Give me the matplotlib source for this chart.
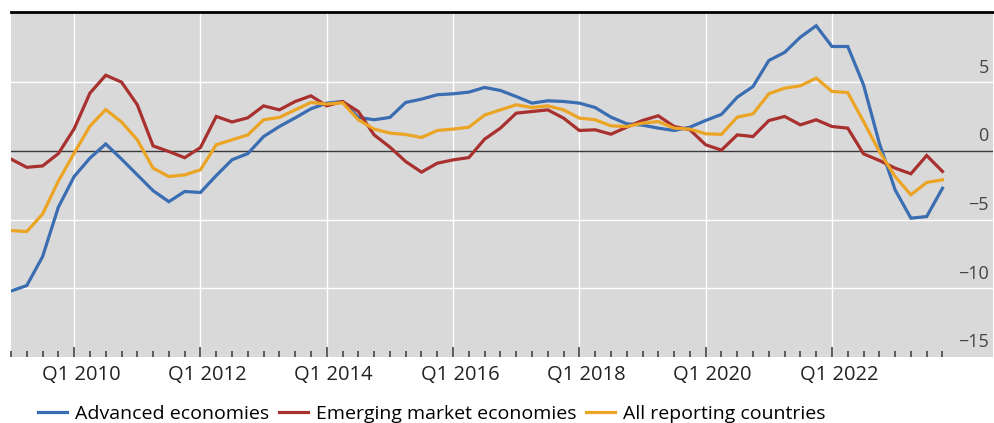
import numpy as np
import matplotlib
matplotlib.use("Agg")
from matplotlib import pyplot as plt
from matplotlib import transforms

plt.rcParams["font.family"] = ["Open Sans", "DejaVu Sans"]

# quarterly, Q1 2009 .. Q4 2023
start_year = 2009
advanced = [-10.2, -9.8, -7.7, -4.1, -1.87, -0.53, 0.5, -0.6, -1.75, -2.9,
            -3.7, -2.96, -3.03, -1.8, -0.65, -0.2, 1.04, 1.77, 2.4, 3.06,
            3.47, 3.59, 2.43, 2.26, 2.43, 3.52, 3.76, 4.08, 4.15, 4.27,
            4.61, 4.39, 3.95, 3.47, 3.64, 3.59, 3.47, 3.15, 2.45, 1.97,
            1.87, 1.65, 1.48, 1.72, 2.21, 2.65, 3.9, 4.68, 6.57, 7.16,
            8.27, 9.1, 7.59, 7.59, 4.8, 0.56, -2.84, -4.9, -4.78, -2.72]
emerging = [-0.6, -1.2, -1.1, -0.2, 1.6, 4.2, 5.5, 5.0, 3.35, 0.36,
            -0.05, -0.5, 0.24, 2.5, 2.1, 2.4, 3.27, 2.98, 3.59, 4.0,
            3.27, 3.59, 2.86, 1.16, 0.27, -0.78, -1.55, -0.9, -0.66, -0.49,
            0.85, 1.65, 2.74, 2.86, 2.98, 2.38, 1.48, 1.53, 1.21, 1.72,
            2.21, 2.55, 1.77, 1.53, 0.44, 0.05, 1.16, 1.04, 2.2, 2.5,
            1.89, 2.26, 1.77, 1.65, -0.22, -0.7, -1.26, -1.67, -0.34, -1.5]
all_countries = [-5.8, -5.87, -4.6, -2.2, -0.17, 1.8, 3.0, 2.1, 0.8, -1.26,
                 -1.87, -1.75, -1.38, 0.44, 0.8, 1.16, 2.26, 2.43, 2.98, 3.52,
                 3.4, 3.5, 2.26, 1.58, 1.29, 1.19, 0.97, 1.48, 1.58, 1.72,
                 2.6, 2.98, 3.35, 3.15, 3.27, 2.98, 2.38, 2.26, 1.82, 1.77,
                 2.01, 2.13, 1.65, 1.58, 1.24, 1.2, 2.45, 2.69, 4.15, 4.56,
                 4.73, 5.29, 4.32, 4.24, 2.13, -0.05, -1.87, -3.2, -2.3, -2.11]
labels = ["Advanced economies", "Emerging market economies", "All reporting countries"]
colors = ["#3a6db2", "#a8302e", "#eba424"]
yticks = [-15, -10, -5, 0, 5]
major_years = [2010, 2012, 2014, 2016, 2018, 2020, 2022]

x = start_year + np.arange(len(advanced)) / 4

fig = plt.figure(figsize=(9.94, 4.23), dpi=100)
ax = fig.add_axes([11 / 994, 1 - 357 / 423, 982 / 994, 345 / 423])
ax.set_facecolor("#d9d9d9")

for series, lab, c in zip([advanced, emerging, all_countries], labels, colors):
    ax.plot(x, series, color=c, lw=2.3, label=lab, zorder=3, solid_joinstyle="miter")

ax.set_xlim(2009.0, 2024.55)
ax.set_ylim(-15, 10.1)

for v in yticks[1:]:
    if v == 0:
        ax.axhline(0, color="#3a3a3a", lw=1.0, zorder=2)
    else:
        ax.axhline(v, color="white", lw=1.0, zorder=1)
for yr in major_years:
    ax.axvline(yr, color="white", lw=1.0, zorder=1)

trans = transforms.blended_transform_factory(ax.transAxes, ax.transData)
off = transforms.offset_copy(trans, fig=fig, x=0, y=4, units="points")
for v in yticks:
    ax.text(0.9955, v, str(v).replace("-", "\u2212"), transform=off, ha="right",
            va="bottom", fontsize=13, color="#444444")

ax.set_yticks([])
ax.set_xticks(major_years)
ax.set_xticklabels([f"Q1 {y}" for y in major_years])
ax.set_xticks(x, minor=True)
ax.tick_params(axis="x", which="major", direction="in", length=7, width=1.2,
               color="#444444", pad=6, labelsize=14.5, labelcolor="#222222")
ax.tick_params(axis="x", which="minor", direction="in", length=4, width=1.2,
               color="#444444")
shift = transforms.ScaledTranslation(7 / 100, 0, fig.dpi_scale_trans)
for lbl in ax.get_xticklabels():
    lbl.set_transform(lbl.get_transform() + shift)

for side in ["left", "right", "bottom"]:
    ax.spines[side].set_visible(False)
ax.spines["top"].set_linewidth(2.0)
ax.spines["top"].set_color("black")

fig.legend(loc="center left", bbox_to_anchor=(38 / 994, 9 / 423), ncol=3,
           frameon=False, fontsize=14, handlelength=1.5, handletextpad=0.4,
           columnspacing=0.5, borderpad=0, borderaxespad=0)

fig.savefig("out.png", dpi=100)
